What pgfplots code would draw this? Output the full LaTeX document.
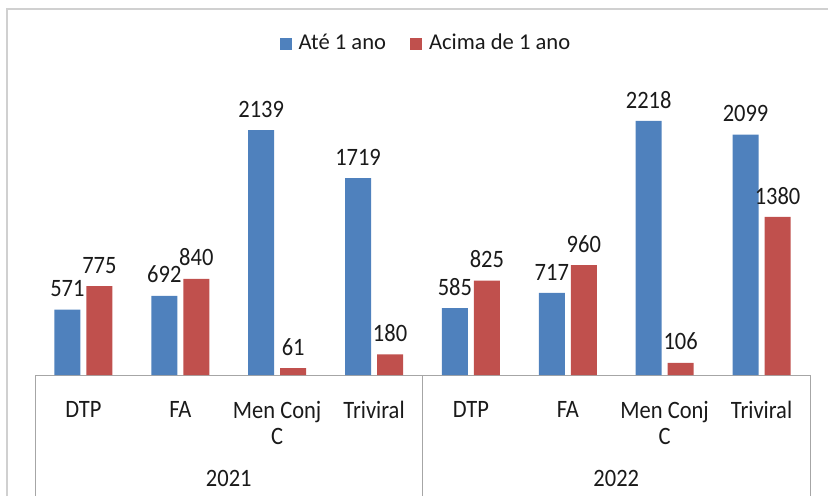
\documentclass[border=0pt]{standalone}
\usepackage{fontspec}
\setmainfont{Carlito}
\newfontfamily\rotulo[FakeStretch=0.9]{Carlito}
\usepackage{pgfplots}
\pgfplotsset{compat=1.18}
\definecolor{azul}{HTML}{4F81BD}
\definecolor{verm}{HTML}{C0504D}
\definecolor{linha}{HTML}{A6A6A6}
\definecolor{moldura}{HTML}{D0D0D0}
\definecolor{texto}{HTML}{1A1A1A}

\pgfplotstableread{
x ate acima
0 571 775
1 692 840
2 2139 61
3 1719 180
4 585 825
5 717 960
6 2218 106
7 2099 1380
}\dados

\begin{document}
\fontsize{22.6}{27}\selectfont
\begin{tikzpicture}[x=1pt,y=1pt]
\useasboundingbox (0,0) rectangle (828,496);
% moldura exterior (so topo e esquerda visiveis)
\draw[moldura, line width=1.5pt] (7,0) -- (7,487) -- (830,487);
\begin{axis}[
    at={(35pt,121pt)}, anchor=south west,
    scale only axis,
    width=775pt, height=286.3pt,
    xmin=-0.5, xmax=7.5, ymin=0, ymax=2500,
    ybar=6pt, bar width=26pt,
    axis y line=none,
    axis x line*=bottom,
    x axis line style={linha, line width=1pt, -},
    xtick=data,
    xticklabels={DTP, FA, {Men Conj\\C}, Triviral, DTP, FA, {Men Conj\\C}, Triviral},
    xtick style={draw=none},
    xticklabel style={font=\rotulo\fontsize{25}{26}\selectfont, text=texto, align=center, anchor=north, inner sep=0pt, yshift=-21.5pt},
    /pgf/number format/assume math mode=true,
    /pgf/number format/1000 sep={},
    nodes near coords,
    every node near coord/.append style={font=\rotulo\fontsize{25}{28}\selectfont, text=texto, inner sep=0pt, yshift=12.5pt},
    clip=false,
    legend columns=2,
    legend style={draw=none, fill=none, at={(0.5045,1.157)}, anchor=center,
        font=\fontsize{22.6}{27}\selectfont, text=texto,
        /tikz/every odd column/.append style={column sep=5pt},
        /tikz/every even column/.append style={column sep=22pt},
        nodes={inner sep=2pt}},
    legend image code/.code={\fill[#1] (0pt,-6pt) rectangle (12pt,6pt);},
]
\addplot[fill=azul, draw=none] table[x=x, y=ate] {\dados};
\addplot[fill=verm, draw=none] table[x=x, y=acima] {\dados};
\legend{Até 1 ano, Acima de 1 ano}
% separadores das categorias
\draw[linha, line width=1pt] (axis cs:-0.5,0) -- ++(0pt,-121pt);
\draw[linha, line width=1pt] (axis cs:3.5,0) -- ++(0pt,-121pt);
\draw[linha, line width=1pt] (axis cs:7.5,0) -- ++(0pt,-121pt);
\node[anchor=base, font=\rotulo\fontsize{25}{28}\selectfont, text=texto] at ([yshift=-111.5pt]axis cs:1.5,0) {2021};
\node[anchor=base, font=\rotulo\fontsize{25}{28}\selectfont, text=texto] at ([yshift=-111.5pt]axis cs:5.5,0) {2022};
\end{axis}
\end{tikzpicture}
\end{document}
